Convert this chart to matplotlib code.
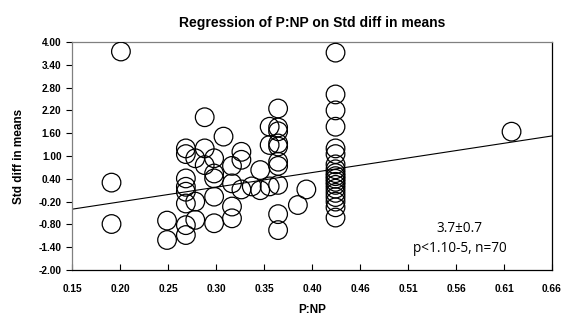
import numpy as np
import matplotlib
matplotlib.use('Agg')
import matplotlib.pyplot as plt

plt.rcParams['font.family'] = ['Liberation Sans', 'DejaVu Sans']

# Puntos (P:NP, Std diff in means)
pnp = [0.202, 0.192, 0.192,
       0.251, 0.251,
       0.271, 0.271, 0.271, 0.271, 0.271, 0.271, 0.271, 0.271,
       0.281, 0.281, 0.281,
       0.291, 0.291, 0.291,
       0.301, 0.301, 0.301, 0.301, 0.301,
       0.311,
       0.320, 0.320, 0.320, 0.320,
       0.330, 0.330, 0.330,
       0.341,
       0.350, 0.350,
       0.360, 0.360, 0.360,
       0.369, 0.369, 0.369, 0.369, 0.369, 0.369, 0.369, 0.369, 0.369, 0.369,
       0.390, 0.399,
       0.430, 0.430, 0.430, 0.430, 0.430, 0.430, 0.430, 0.430, 0.430, 0.430,
       0.430, 0.430, 0.430, 0.430, 0.430, 0.430, 0.430, 0.430, 0.430,
       0.617]
smd = [3.75, 0.30, -0.79,
       -0.70, -1.21,
       1.20, 1.05, 0.41, 0.19, 0.06, -0.25, -0.82, -1.08,
       0.94, -0.20, -0.68,
       2.02, 1.20, 0.76,
       0.94, 0.54, 0.41, -0.07, -0.77,
       1.51,
       0.74, 0.28, -0.33, -0.64,
       1.11, 0.90, 0.12,
       0.20,
       0.63, 0.10,
       1.77, 1.29, 0.20,
       2.25, 1.75, 1.65, 1.33, 1.25, 0.85, 0.74, 0.24, -0.53, -0.95,
       -0.29, 0.12,
       3.72, 2.62, 2.20, 1.77, 1.20, 1.05, 0.78, 0.65, 0.55, 0.47,
       0.40, 0.32, 0.24, 0.14, 0.03, -0.08, -0.20, -0.35, -0.62,
       1.64]

# Recta de regresion
pendiente = 3.78
intercepto = -0.967

xticks = [0.15, 0.201, 0.252, 0.303, 0.354, 0.405, 0.456, 0.507, 0.558, 0.609, 0.66]
xlabels = ['0.15', '0.20', '0.25', '0.30', '0.35', '0.40', '0.46', '0.51', '0.56', '0.61', '0.66']
yticks = [-2.0, -1.4, -0.8, -0.2, 0.4, 1.0, 1.6, 2.2, 2.8, 3.4, 4.0]

fig = plt.figure(figsize=(5.74, 3.2), dpi=100)
ax = fig.add_axes([0.1254, 0.15625, 0.8363, 0.7125])

ax.scatter(pnp, smd, s=180, facecolors='none', edgecolors='black', linewidths=0.9, zorder=3)

xr = np.array([0.15, 0.66])
ax.plot(xr, intercepto + pendiente * xr, color='black', lw=0.8, zorder=2)

ax.set_xlim(0.15, 0.66)
ax.set_ylim(-2.0, 4.0)
ax.set_xticks(xticks)
ax.set_xticklabels(xlabels)
ax.set_yticks(yticks)
ax.set_yticklabels(['%.2f' % v for v in yticks])
ax.tick_params(axis='x', direction='in', length=4, labelsize=7.3, pad=10)
ax.tick_params(axis='y', direction='out', length=4, labelsize=7.3)
for lab in ax.get_xticklabels() + ax.get_yticklabels():
    lab.set_fontweight('bold')

ax.spines['top'].set_color('#808080')
ax.spines['left'].set_color('#808080')
for s in ax.spines.values():
    s.set_linewidth(0.9)

ax.set_title('Regression of P:NP on Std diff in means', fontsize=10, fontweight='bold', pad=11)
ax.set_xlabel('P:NP', fontsize=8.5, fontweight='bold', labelpad=7)
ax.set_ylabel('Std diff in means', fontsize=8.5, fontweight='bold', labelpad=10)

ax.text(0.562, -1.17, '3.7\u00b10.7\np<1.10-5, n=70', ha='center', va='center',
        fontsize=9.8, family=['Open Sans', 'DejaVu Sans'], linespacing=1.5)

fig.savefig('out.png', dpi=100)
